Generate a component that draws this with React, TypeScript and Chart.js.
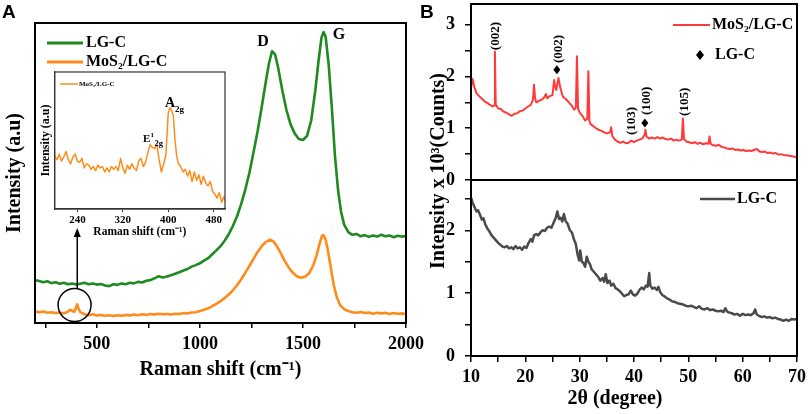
import React, { useEffect, useRef } from "react";
import { Chart, registerables } from "chart.js";

Chart.register(...registerables);

const SERIF = "'Liberation Serif', 'Times New Roman', serif";
const SANS = "'Liberation Sans', Arial, sans-serif";
const GREEN = "#1f8a1f";
const ORANGE = "#ff8c1a";
const RED = "#ff3a3a";
const GRAY = "#4a4a4a";

// ---------- Panel A: Raman spectra ----------
const ramanShiftLgc = [
  200, 220, 240, 260, 280, 300, 320, 340, 360, 380,
  400, 420, 440, 460, 480, 500, 520, 540, 560, 580,
  600, 620, 640, 660, 680, 700, 720, 740, 760, 780,
  800, 820, 840, 860, 880, 900, 920, 940, 960, 980,
  1000, 1020, 1040, 1060, 1080, 1100, 1120, 1140, 1160, 1180,
  1200, 1220, 1240, 1260, 1280, 1300, 1320, 1335, 1350, 1365,
  1380, 1400, 1420, 1440, 1460, 1480, 1500, 1520, 1540, 1560,
  1575, 1590, 1600, 1610, 1625, 1640, 1655, 1670, 1685, 1700,
  1720, 1740, 1760, 1780, 1800, 1820, 1840, 1860, 1880, 1900,
  1920, 1940, 1960, 1980, 2000,
];
const ramanIntensityLgc = [
  14.3, 14.0, 13.6, 13.9, 13.3, 13.6, 13.1, 13.4, 12.9, 13.2,
  12.8, 13.1, 13.4, 12.9, 13.2, 12.8, 13.0, 12.5, 12.3, 12.9,
  12.7, 13.2, 12.9, 13.4, 13.2, 13.7, 13.5, 14.1, 14.3, 14.9,
  15.6, 15.2, 15.5, 15.9, 16.4, 16.9, 17.5, 18.0, 18.8, 19.3,
  19.9, 20.8, 21.6, 22.9, 24.2, 25.6, 27.4, 29.6, 32.3, 35.5,
  39.6, 44.4, 50.0, 56.8, 63.9, 72.0, 80.5, 86.5, 90.6, 89.5,
  85.0, 77.5, 71.0, 66.2, 63.2, 61.3, 61.0, 62.4, 67.5, 77.5,
  87.0, 95.2, 97.0, 95.5, 86.0, 72.0, 56.0, 44.5, 37.0, 32.8,
  30.3, 29.4, 29.7, 28.9, 29.3, 28.7, 29.2, 28.8, 29.4, 28.9,
  29.2, 28.6, 29.1, 28.8, 29.0,
];
const ramanShiftMos = [
  200, 220, 240, 260, 280, 300, 320, 340, 360, 370,
  380, 390, 400, 405, 410, 420, 440, 460, 480, 500,
  520, 540, 560, 580, 600, 620, 640, 660, 680, 700,
  720, 740, 760, 780, 800, 820, 840, 860, 880, 900,
  920, 940, 960, 980, 1000, 1020, 1040, 1060, 1080, 1100,
  1120, 1140, 1160, 1180, 1200, 1220, 1240, 1260, 1280, 1300,
  1320, 1340, 1355, 1370, 1390, 1410, 1430, 1450, 1470, 1490,
  1510, 1530, 1550, 1565, 1580, 1592, 1600, 1610, 1620, 1635,
  1650, 1665, 1680, 1700, 1720, 1740, 1760, 1780, 1800, 1820,
  1840, 1860, 1880, 1900, 1920, 1940, 1960, 1980, 2000,
];
const ramanIntensityMos = [
  3.9, 3.6, 3.8, 3.4, 3.6, 3.3, 3.5, 3.2, 3.8, 4.4,
  4.1, 3.7, 5.2, 6.2, 5.0, 3.6, 2.9, 2.6, 2.9, 2.5,
  2.7, 2.4, 2.6, 2.3, 2.6, 2.4, 2.7, 2.5, 2.8, 2.6,
  2.9, 2.7, 3.0, 2.8, 3.1, 2.9, 3.0, 2.8, 3.1, 3.0,
  3.3, 3.2, 3.5, 3.6, 4.0, 4.4, 4.9, 5.6, 6.4, 7.3,
  8.3, 9.5, 10.9, 12.6, 14.5, 16.7, 19.0, 21.4, 23.7, 25.6,
  27.0, 27.8, 27.3, 26.0, 23.6, 20.9, 18.6, 16.8, 15.6, 15.1,
  15.4, 16.6, 19.2, 22.3, 26.3, 29.0, 29.3, 27.8, 24.6, 18.5,
  12.5, 8.4, 6.0, 4.6, 4.0, 3.6, 3.4, 3.7, 3.3, 3.5,
  3.1, 3.4, 3.2, 3.4, 3.0, 3.3, 3.1, 3.2, 3.0,
];
const ramanTickValues = [250, 500, 750, 1000, 1250, 1500, 1750, 2000];
const ramanTickLabels = [500, 1000, 1500, 2000];

// ---------- Inset: low-wavenumber MoS2 region ----------
const insetShift = [
  200, 204, 208, 212, 216, 220, 224, 228, 232, 236,
  240, 244, 248, 252, 256, 260, 264, 268, 272, 276,
  280, 284, 288, 292, 296, 300, 304, 308, 312, 316,
  320, 324, 328, 332, 336, 340, 344, 348, 352, 356,
  360, 364, 368, 372, 376, 380, 384, 388, 392, 396,
  400, 403, 406, 409, 412, 415, 418, 422, 426, 430,
  434, 438, 442, 446, 450, 454, 458, 462, 466, 470,
  474, 478, 482, 486, 490, 494, 498, 500,
];
const insetIntensity = [
  39, 36, 40, 35, 38, 42, 36, 33, 38, 40,
  35, 34, 37, 30, 33, 32, 29, 31, 28, 32,
  30, 31, 27, 30, 27, 31, 29, 31, 28, 37,
  30, 26, 32, 29, 33, 30, 28, 35, 37, 31,
  34, 41, 47, 45, 44, 47, 36, 27, 33, 40,
  70, 74, 72, 68, 50, 38, 33, 31, 27, 29,
  24, 28, 20, 27, 21, 25, 18, 24, 19, 17,
  20, 13, 11, 8, 12, 5, 9, 6,
];
const insetTickValues = [240, 320, 400, 480];

// ---------- Panel B: XRD ----------
const xrdAngleMos = [
  10.0, 10.3, 10.6, 11.0, 11.5, 12.0, 12.5, 13.0, 13.5, 14.0,
  14.25, 14.4, 14.55, 15.0, 15.5, 16.0, 16.5, 17.0, 17.5, 18.0,
  18.5, 19.0, 19.5, 20.0, 20.5, 21.0, 21.4, 21.6, 21.8, 22.0,
  22.5, 23.0, 23.5, 23.8, 24.0, 24.5, 25.0, 25.3, 25.5, 25.7,
  26.1, 26.4, 26.8, 27.0, 27.5, 28.0, 28.5, 29.0, 29.3, 29.5,
  29.7, 30.0, 30.5, 31.0, 31.4, 31.6, 31.8, 32.0, 32.5, 33.0,
  33.5, 34.0, 34.5, 35.0, 35.6, 35.8, 36.0, 36.5, 37.0, 37.5,
  38.0, 38.5, 39.0, 39.5, 40.0, 40.5, 41.0, 41.5, 42.0, 42.1,
  42.3, 42.8, 43.3, 43.8, 44.3, 44.8, 45.3, 45.8, 46.3, 46.8,
  47.3, 47.8, 48.3, 48.8, 49.0, 49.2, 49.7, 50.2, 50.7, 51.2,
  51.7, 52.2, 52.7, 53.2, 53.7, 53.9, 54.1, 54.6, 55.1, 55.6,
  56.1, 56.6, 57.1, 57.6, 58.1, 58.6, 59.1, 59.6, 60.1, 60.6,
  61.1, 61.6, 62.1, 62.6, 63.1, 63.6, 64.1, 64.6, 65.1, 65.6,
  66.1, 66.6, 67.1, 67.6, 68.1, 68.6, 69.1, 69.6, 70.0,
];
const xrdCountsMos = [
  1.78, 1.95, 1.80, 1.68, 1.62, 1.57, 1.52, 1.49, 1.45, 1.42,
  1.44, 2.48, 1.46, 1.38, 1.37, 1.32, 1.30, 1.27, 1.24, 1.28,
  1.29, 1.33, 1.34, 1.38, 1.42, 1.45, 1.55, 1.84, 1.58, 1.50,
  1.53, 1.55, 1.60, 1.66, 1.58, 1.62, 1.64, 1.93, 1.80, 1.74,
  1.97, 1.80, 1.64, 1.60, 1.56, 1.50, 1.44, 1.36, 1.40, 2.39,
  1.38, 1.30, 1.24, 1.15, 1.18, 2.10, 1.14, 1.08, 1.04, 1.00,
  0.97, 0.95, 0.92, 0.90, 0.92, 1.02, 0.85, 0.78, 0.74, 0.72,
  0.74, 0.71, 0.72, 0.76, 0.73, 0.76, 0.78, 0.80, 0.88, 0.97,
  0.84, 0.80, 0.82, 0.80, 0.83, 0.80, 0.82, 0.79, 0.78, 0.80,
  0.76, 0.78, 0.76, 0.78, 1.19, 0.79, 0.74, 0.73, 0.71, 0.73,
  0.70, 0.72, 0.69, 0.71, 0.70, 0.84, 0.70, 0.67, 0.66, 0.68,
  0.64, 0.63, 0.61, 0.60, 0.61, 0.58, 0.59, 0.57, 0.58, 0.56,
  0.57, 0.56, 0.58, 0.60, 0.55, 0.54, 0.55, 0.52, 0.53, 0.51,
  0.52, 0.49, 0.50, 0.48, 0.48, 0.47, 0.46, 0.45, 0.43,
];
const xrdAngleLgc = [
  10.0, 10.3, 10.6, 11.0, 11.3, 11.6, 12.0, 12.3, 12.6, 13.0,
  13.4, 13.8, 14.2, 14.6, 15.0, 15.4, 15.8, 16.2, 16.6, 17.0,
  17.4, 17.8, 18.2, 18.6, 19.0, 19.4, 19.8, 20.2, 20.6, 21.0,
  21.3, 21.6, 22.0, 22.4, 22.8, 23.2, 23.6, 24.0, 24.4, 24.8,
  25.2, 25.6, 25.9, 26.2, 26.5, 26.8, 27.1, 27.4, 27.8, 28.2,
  28.6, 29.0, 29.3, 29.6, 29.9, 30.1, 30.4, 30.7, 31.0, 31.3,
  31.6, 31.9, 32.2, 32.6, 33.0, 33.4, 33.8, 34.2, 34.5, 34.8,
  35.1, 35.5, 35.8, 36.2, 36.6, 37.0, 37.4, 37.8, 38.2, 38.6,
  39.0, 39.4, 39.8, 40.2, 40.6, 41.0, 41.4, 41.8, 42.2, 42.5,
  42.8, 43.0, 43.4, 43.8, 44.2, 44.5, 44.8, 45.2, 45.6, 46.0,
  46.5, 47.0, 47.5, 48.0, 48.5, 49.0, 49.5, 50.0, 50.5, 51.0,
  51.5, 52.0, 52.5, 53.0, 53.5, 54.0, 54.5, 55.0, 55.5, 56.0,
  56.5, 56.8, 57.2, 57.6, 58.0, 58.5, 59.0, 59.5, 60.0, 60.5,
  61.0, 61.5, 62.0, 62.3, 62.6, 63.0, 63.5, 64.0, 64.5, 65.0,
  65.5, 66.0, 66.5, 67.0, 67.5, 68.0, 68.5, 69.0, 69.5, 70.0,
];
const xrdCountsLgc = [
  2.52, 2.44, 2.38, 2.30, 2.32, 2.26, 2.17, 2.19, 2.10, 2.03,
  1.98, 1.92, 1.88, 1.84, 1.80, 1.77, 1.74, 1.73, 1.75, 1.71,
  1.73, 1.70, 1.75, 1.71, 1.73, 1.69, 1.74, 1.72, 1.80, 1.86,
  1.82, 1.92, 1.94, 1.92, 1.97, 2.00, 1.99, 2.04, 2.06, 2.04,
  2.12, 2.20, 2.30, 2.18, 2.20, 2.14, 2.26, 2.15, 2.10, 2.00,
  1.96, 1.84, 1.78, 1.62, 1.52, 1.68, 1.50, 1.48, 1.42, 1.58,
  1.50, 1.46, 1.38, 1.34, 1.30, 1.26, 1.20, 1.24, 1.18, 1.30,
  1.16, 1.20, 1.12, 1.15, 1.08, 1.06, 1.03, 0.99, 0.95, 0.97,
  0.98, 1.04, 0.98, 0.96, 0.99, 1.05, 1.09, 1.06, 1.12, 1.10,
  1.32, 1.12, 1.07, 1.09, 1.05, 1.10, 1.02, 0.97, 0.95, 0.92,
  0.90, 0.87, 0.86, 0.84, 0.83, 0.82, 0.80, 0.79, 0.80, 0.78,
  0.76, 0.79, 0.75, 0.74, 0.76, 0.73, 0.74, 0.72, 0.71, 0.72,
  0.70, 0.76, 0.70, 0.69, 0.68, 0.66, 0.67, 0.64, 0.67, 0.65,
  0.66, 0.65, 0.68, 0.74, 0.66, 0.64, 0.62, 0.63, 0.61, 0.62,
  0.60, 0.61, 0.59, 0.58, 0.56, 0.58, 0.56, 0.59, 0.58, 0.59,
];
const xrdXTickValues = [10, 15, 20, 25, 30, 35, 40, 45, 50, 55, 60, 65, 70];
const xrdXTickLabels = [10, 20, 30, 40, 50, 60, 70];
const xrdUpperYTickValues = [0, 0.5, 1, 1.5, 2, 2.5, 3];
const xrdUpperYTickLabels = [0, 1, 2, 3];
const xrdLowerYTickValues = [0, 0.5, 1, 1.5, 2, 2.5];
const xrdLowerYTickLabels = [0, 1, 2];

// ---------- helpers ----------
const pts = (xs: number[], ys: number[]) => xs.map((x, i) => ({ x, y: ys[i] }));
const bold = (size: number, family = SERIF) => ({ family, size, weight: "bold" as const });
const near = (list: number[], v: number) => list.some((t) => Math.abs(t - v) < 1e-6);
const fixTicks = (values: number[]) => (s: any) => {
  s.ticks = values.map((value) => ({ value }));
};
const labelIf = (labels: number[]) => (v: number) => (near(labels, v) ? String(v) : "");

function noPad(s: any) {
  s.paddingTop = 0;
  s.paddingBottom = 0;
  s.paddingLeft = 0;
  s.paddingRight = 0;
}

function frame(ctx: CanvasRenderingContext2D, a: any, lw: number, color = "#000") {
  ctx.save();
  ctx.strokeStyle = color;
  ctx.lineWidth = lw;
  ctx.strokeRect(a.left, a.top, a.right - a.left, a.bottom - a.top);
  ctx.restore();
}

function vText(ctx: CanvasRenderingContext2D, text: string, x: number, y: number, font: string) {
  ctx.save();
  ctx.translate(x, y);
  ctx.rotate(-Math.PI / 2);
  ctx.font = font;
  ctx.fillStyle = "#000";
  ctx.textAlign = "center";
  ctx.textBaseline = "middle";
  ctx.fillText(text, 0, 0);
  ctx.restore();
}

function diamond(ctx: CanvasRenderingContext2D, x: number, y: number, w: number, h: number) {
  ctx.save();
  ctx.fillStyle = "#000";
  ctx.beginPath();
  ctx.moveTo(x, y - h / 2);
  ctx.lineTo(x + w / 2, y);
  ctx.lineTo(x, y + h / 2);
  ctx.lineTo(x - w / 2, y);
  ctx.closePath();
  ctx.fill();
  ctx.restore();
}

function legendLine(ctx: CanvasRenderingContext2D, x0: number, x1: number, y: number, color: string, lw: number) {
  ctx.save();
  ctx.strokeStyle = color;
  ctx.lineWidth = lw;
  ctx.beginPath();
  ctx.moveTo(x0, y);
  ctx.lineTo(x1, y);
  ctx.stroke();
  ctx.restore();
}

function text(ctx: CanvasRenderingContext2D, t: string, x: number, y: number, font: string, align: CanvasTextAlign = "left", baseline: CanvasTextBaseline = "middle") {
  ctx.save();
  ctx.font = font;
  ctx.fillStyle = "#000";
  ctx.textAlign = align;
  ctx.textBaseline = baseline;
  ctx.fillText(t, x, y);
  ctx.restore();
}

const lineDs = (data: any[], color: string, width: number) => ({
  data,
  borderColor: color,
  borderWidth: width,
  pointRadius: 0,
  tension: 0,
  fill: false,
  borderJoinStyle: "round" as const,
});

const baseOptions = (padding: any) => ({
  responsive: false,
  animation: false as const,
  devicePixelRatio: 1,
  layout: { padding },
  plugins: { legend: { display: false }, tooltip: { enabled: false }, title: { display: false } },
});

// ---------- plugins ----------
const annotA = {
  id: "annotA",
  afterDraw(chart: any) {
    const { ctx, chartArea: a, scales } = chart;
    const xs = scales.x;
    const ys = scales.y;
    frame(ctx, a, 2);
    text(ctx, "A", 2, 3, `bold 19px ${SANS}`, "left", "top");
    legendLine(ctx, 47, 83, 43, GREEN, 3);
    text(ctx, "LG-C", 86, 43, `bold 16px ${SERIF}`);
    legendLine(ctx, 47, 83, 62, ORANGE, 3);
    text(ctx, "MoS₂/LG-C", 86, 62, `bold 16px ${SERIF}`);
    text(ctx, "D", xs.getPixelForValue(1306), ys.getPixelForValue(93.7), `bold 16px ${SERIF}`, "center");
    text(ctx, "G", xs.getPixelForValue(1675), ys.getPixelForValue(96), `bold 16px ${SERIF}`, "center");
    const cx = xs.getPixelForValue(392);
    const cy = ys.getPixelForValue(6);
    const ax = xs.getPixelForValue(405);
    ctx.save();
    ctx.strokeStyle = "#000";
    ctx.fillStyle = "#000";
    ctx.lineWidth = 1.5;
    ctx.beginPath();
    ctx.arc(cx, cy, 16.5, 0, Math.PI * 2);
    ctx.stroke();
    ctx.beginPath();
    ctx.moveTo(ax, cy - 16.5);
    ctx.lineTo(ax, 234);
    ctx.stroke();
    ctx.beginPath();
    ctx.moveTo(ax, 228);
    ctx.lineTo(ax - 3.5, 237);
    ctx.lineTo(ax + 3.5, 237);
    ctx.closePath();
    ctx.fill();
    ctx.restore();
  },
};

const annotInset = {
  id: "annotInset",
  beforeDraw(chart: any) {
    const { ctx, chartArea: a } = chart;
    ctx.save();
    ctx.fillStyle = "#fff";
    ctx.fillRect(a.left, a.top, a.right - a.left, a.bottom - a.top);
    ctx.restore();
  },
  afterDraw(chart: any) {
    const { ctx, chartArea: a } = chart;
    frame(ctx, a, 1.2, "#333");
    legendLine(ctx, 24, 42, 18, ORANGE, 1.5);
    text(ctx, "MoS₂/LG-C", 43, 18, `bold 7px ${SERIF}`);
    text(ctx, "A", 129, 41, `bold 14px ${SERIF}`, "left", "alphabetic");
    text(ctx, "2g", 139, 46, `bold 9px ${SERIF}`, "left", "alphabetic");
    text(ctx, "E", 107, 76, `bold 11px ${SERIF}`, "left", "alphabetic");
    text(ctx, "1", 114.5, 71, `bold 7px ${SERIF}`, "left", "alphabetic");
    text(ctx, "2g", 118.5, 80, `bold 8.5px ${SERIF}`, "left", "alphabetic");
  },
};

const annotBUpper = {
  id: "annotBUpper",
  afterDraw(chart: any) {
    const { ctx, chartArea: a, scales } = chart;
    const xs = scales.x;
    const ys = scales.y;
    frame(ctx, a, 2);
    text(ctx, "B", 10, 3, `bold 19px ${SANS}`, "left", "top");
    vText(ctx, "Intensity x 10³(Counts)", 29, 171, `bold 20px ${SERIF}`);
    legendLine(ctx, 263, 300, 25, RED, 2);
    text(ctx, "MoS₂/LG-C", 302, 25, `bold 16px ${SERIF}`);
    diamond(ctx, 290, 55, 8, 10);
    text(ctx, "LG-C", 305, 55, `bold 16px ${SERIF}`);
    const f = `bold 13px ${SERIF}`;
    vText(ctx, "(002)", xs.getPixelForValue(14.6), ys.getPixelForValue(2.78), f);
    vText(ctx, "(002)", xs.getPixelForValue(26.2), ys.getPixelForValue(2.53), f);
    diamond(ctx, xs.getPixelForValue(25.8), ys.getPixelForValue(2.13), 7, 9);
    vText(ctx, "(103)", xs.getPixelForValue(39.65), ys.getPixelForValue(1.14), f);
    vText(ctx, "(100)", xs.getPixelForValue(42.4), ys.getPixelForValue(1.53), f);
    diamond(ctx, xs.getPixelForValue(42.0), ys.getPixelForValue(1.1), 7, 9);
    vText(ctx, "(105)", xs.getPixelForValue(49.4), ys.getPixelForValue(1.51), f);
  },
};

const annotBLower = {
  id: "annotBLower",
  afterDraw(chart: any) {
    const { ctx, chartArea: a } = chart;
    frame(ctx, a, 2);
    legendLine(ctx, 290, 325, 199, GRAY, 2.5);
    text(ctx, "LG-C", 327, 199, `bold 16px ${SERIF}`);
    text(ctx, "2θ (degree)", 205, 399, `bold 20px ${SERIF}`, "center");
  },
};

// ---------- chart configs ----------
const tickGrid = (len: number) => ({
  display: true,
  drawOnChartArea: false,
  drawTicks: true,
  tickLength: len,
  color: "#000",
  lineWidth: 1.5,
});
const blackBorder = { display: true, color: "#000", width: 2 };

function configA(): any {
  return {
    type: "line",
    data: {
      datasets: [
        lineDs(pts(ramanShiftLgc, ramanIntensityLgc), GREEN, 2.6),
        lineDs(pts(ramanShiftMos, ramanIntensityMos), ORANGE, 2.6),
      ],
    },
    options: {
      ...baseOptions({ top: 23, right: 34, bottom: 0, left: 0 }),
      scales: {
        x: {
          type: "linear",
          min: 200,
          max: 2000,
          afterBuildTicks: fixTicks(ramanTickValues),
          afterFit: (s: any) => {
            s.height = 91;
            noPad(s);
          },
          ticks: {
            autoSkip: false,
            maxRotation: 0,
            padding: 6,
            color: "#000",
            font: bold(18),
            callback: labelIf(ramanTickLabels),
          },
          grid: tickGrid(5),
          border: blackBorder,
          title: {
            display: true,
            text: "Raman shift (cm⁻¹)",
            color: "#000",
            font: bold(20),
            padding: { top: 0, bottom: 32 },
          },
        },
        y: {
          type: "linear",
          min: 0,
          max: 100,
          afterFit: (s: any) => {
            s.width = 35;
            noPad(s);
          },
          ticks: { display: false },
          grid: { display: false },
          border: blackBorder,
          title: {
            display: true,
            text: "Intensity (a.u)",
            color: "#000",
            font: bold(20),
            padding: { top: 2.5, bottom: 0 },
          },
        },
      },
    },
    plugins: [annotA],
  };
}

function configInset(): any {
  return {
    type: "line",
    data: { datasets: [lineDs(pts(insetShift, insetIntensity), ORANGE, 1.5)] },
    options: {
      ...baseOptions({ top: 6, right: 11, bottom: 0, left: 0 }),
      scales: {
        x: {
          type: "linear",
          min: 200,
          max: 500,
          afterBuildTicks: fixTicks(insetTickValues),
          afterFit: (s: any) => {
            s.height = 37;
            noPad(s);
          },
          ticks: {
            autoSkip: false,
            maxRotation: 0,
            padding: 1.5,
            color: "#000",
            font: bold(11),
            callback: labelIf(insetTickValues),
          },
          grid: { ...tickGrid(3), lineWidth: 1, color: "#333" },
          border: { display: true, color: "#333", width: 1.2 },
          title: {
            display: true,
            text: "Raman shift (cm⁻¹)",
            color: "#000",
            font: bold(11.5),
            padding: { top: 0, bottom: 7 },
          },
        },
        y: {
          type: "linear",
          min: 0,
          max: 100,
          afterFit: (s: any) => {
            s.width = 18.7;
            noPad(s);
          },
          ticks: { display: false },
          grid: { display: false },
          border: { display: true, color: "#333", width: 1.2 },
          title: {
            display: true,
            text: "Intensity (a.u)",
            color: "#000",
            font: bold(12),
            padding: { top: 2.8, bottom: 0 },
          },
        },
      },
    },
    plugins: [annotInset],
  };
}

function configBUpper(): any {
  return {
    type: "line",
    data: { datasets: [lineDs(pts(xrdAngleMos, xrdCountsMos), RED, 2)] },
    options: {
      ...baseOptions({ top: 4, right: 12, bottom: 234, left: 0 }),
      scales: {
        x: { type: "linear", min: 10, max: 70, display: false },
        y: {
          type: "linear",
          min: 0,
          max: 3.4,
          afterBuildTicks: fixTicks(xrdUpperYTickValues),
          afterFit: (s: any) => {
            s.width = 61;
            noPad(s);
          },
          ticks: {
            autoSkip: false,
            padding: 10,
            color: "#000",
            font: bold(18),
            callback: labelIf(xrdUpperYTickLabels),
          },
          grid: tickGrid(6),
          border: blackBorder,
        },
      },
    },
    plugins: [annotBUpper],
  };
}

function configBLower(): any {
  return {
    type: "line",
    data: { datasets: [lineDs(pts(xrdAngleLgc, xrdCountsLgc), GRAY, 2.5)] },
    options: {
      ...baseOptions({ top: 180, right: 12, bottom: 0, left: 0 }),
      scales: {
        x: {
          type: "linear",
          min: 10,
          max: 70,
          afterBuildTicks: fixTicks(xrdXTickValues),
          afterFit: (s: any) => {
            s.height = 58;
            noPad(s);
          },
          ticks: {
            autoSkip: false,
            maxRotation: 0,
            padding: 5,
            color: "#000",
            font: bold(18),
            callback: labelIf(xrdXTickLabels),
          },
          grid: tickGrid(6),
          border: blackBorder,
        },
        y: {
          type: "linear",
          min: 0,
          max: 2.8,
          afterBuildTicks: fixTicks(xrdLowerYTickValues),
          afterFit: (s: any) => {
            s.width = 61;
            noPad(s);
          },
          ticks: {
            autoSkip: false,
            padding: 10,
            color: "#000",
            font: bold(18),
            callback: labelIf(xrdLowerYTickLabels),
          },
          grid: tickGrid(6),
          border: blackBorder,
        },
      },
    },
    plugins: [annotBLower],
  };
}

function ChartCanvas({ make, left, top, width, height }: { make: () => any; left: number; top: number; width: number; height: number }) {
  const ref = useRef<HTMLCanvasElement>(null);
  useEffect(() => {
    const chart = new Chart(ref.current as HTMLCanvasElement, make());
    return () => chart.destroy();
  }, []);
  return (
    <canvas
      ref={ref}
      width={width}
      height={height}
      style={{ position: "absolute", left, top, width, height }}
    />
  );
}

export default function App() {
  return (
    <div
      style={{
        position: "absolute",
        left: 0,
        top: 0,
        width: 809,
        height: 414,
        background: "#fff",
        overflow: "hidden",
      }}
    >
      <ChartCanvas make={configA} left={0} top={0} width={440} height={414} />
      <ChartCanvas make={configBUpper} left={410} top={0} width={399} height={414} />
      <ChartCanvas make={configBLower} left={410} top={0} width={399} height={414} />
      <ChartCanvas make={configInset} left={36} top={66} width={200} height={180} />
    </div>
  );
}
